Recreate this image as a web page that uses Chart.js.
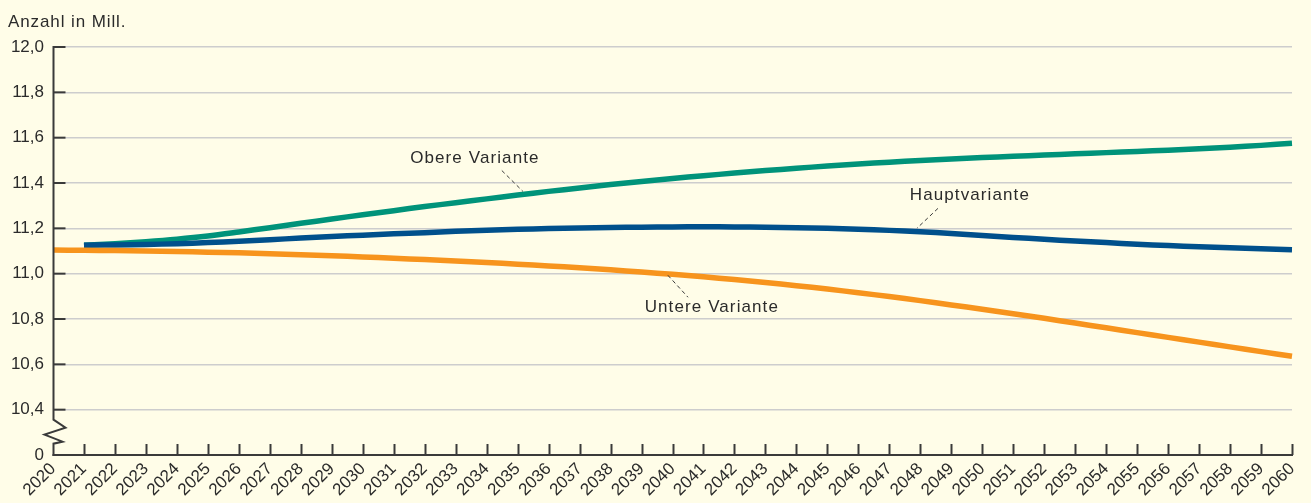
<!DOCTYPE html>
<html><head><meta charset="utf-8">
<script src="https://cdn.jsdelivr.net/npm/chart.js@4"></script>
<style>html,body{margin:0;padding:0;background:#fffde8;overflow:hidden}</style>
</head><body>
<canvas id="c" width="1311" height="503"></canvas>
<script>
const years = ['2020','2021','2022','2023','2024','2025','2026','2027','2028','2029','2030',
  '2031','2032','2033','2034','2035','2036','2037','2038','2039','2040',
  '2041','2042','2043','2044','2045','2046','2047','2048','2049','2050',
  '2051','2052','2053','2054','2055','2056','2057','2058','2059','2060'];

const obereVariante = [null,11.125,11.132,11.141,11.152,11.166,11.184,11.203,11.222,11.241,11.260,
  11.278,11.296,11.313,11.330,11.347,11.363,11.378,11.393,11.407,11.420,
  11.432,11.444,11.455,11.465,11.475,11.484,11.492,11.499,11.506,11.512,
  11.518,11.523,11.529,11.534,11.539,11.545,11.551,11.558,11.566,11.575];

const hauptvariante = [null,11.125,11.127,11.129,11.132,11.137,11.143,11.150,11.157,11.164,11.170,
  11.176,11.181,11.187,11.192,11.196,11.199,11.202,11.204,11.205,11.206,
  11.207,11.206,11.205,11.203,11.200,11.196,11.191,11.185,11.177,11.168,
  11.160,11.152,11.144,11.137,11.130,11.124,11.119,11.114,11.110,11.106];

const untereVariante = [11.104,11.103,11.102,11.100,11.098,11.095,11.092,11.088,11.084,11.079,11.074,
  11.068,11.062,11.056,11.049,11.042,11.034,11.026,11.017,11.007,10.997,
  10.986,10.974,10.961,10.947,10.932,10.916,10.899,10.881,10.862,10.843,
  10.823,10.803,10.782,10.761,10.740,10.719,10.698,10.677,10.656,10.636];

const yTickValues = [10.2,10.4,10.6,10.8,11.0,11.2,11.4,11.6,11.8,12.0];
const yTickLabels = ['0','10,4','10,6','10,8','11,0','11,2','11,4','11,6','11,8','12,0'];
const yTitle = 'Anzahl in Mill.';

const labelNotes = [
  {text:'Obere Variante', x:13.62, y:11.508, from:[14.49,11.455], to:[15.17,11.363]},
  {text:'Untere Variante', x:21.27, y:10.852, from:[19.85,10.993], to:[20.5,10.896]},
  {text:'Hauptvariante', x:29.6, y:11.345, from:[28.57,11.288], to:[27.89,11.20]}
];

const INK = '#2b2b2b';
const AXIS = '#3a3a3a';
const FONT = '"Liberation Sans", Arial, sans-serif';

const decor = {
  id: 'decor',
  beforeDraw(chart) {
    const c = chart.ctx;
    c.save();
    c.fillStyle = '#fffde8';
    c.fillRect(0, 0, chart.width, chart.height);
    c.restore();
  },
  afterDraw(chart) {
    const c = chart.ctx;
    const xs = chart.scales.x, ys = chart.scales.y;
    const area = chart.chartArea;
    const ax = Math.round(area.left) + 0.5;
    c.save();
    c.strokeStyle = AXIS;
    c.lineWidth = 2;
    c.lineCap = 'butt';
    const yTop = ys.getPixelForValue(12.0);
    const yBot = area.bottom;
    const y104 = ys.getPixelForValue(10.4);
    c.beginPath();
    c.moveTo(ax, yTop - 1);
    c.lineTo(ax, y104 + 10);
    c.lineTo(ax + 12, y104 + 18);
    c.lineTo(ax - 9, y104 + 25);
    c.lineTo(ax + 9, y104 + 32);
    c.lineTo(ax, y104 + 34);
    c.lineTo(ax, yBot + 1);
    c.stroke();
    c.beginPath();
    c.moveTo(ax - 1, yBot);
    c.lineTo(area.right + 1, yBot);
    c.stroke();
    yTickValues.forEach(v => {
      if (v === 10.2) return;
      const py = ys.getPixelForValue(v);
      c.beginPath();
      c.moveTo(ax, py);
      c.lineTo(ax + 12, py);
      c.stroke();
    });
    years.forEach((yr, i) => {
      if (i === 0) return;
      const px = Math.round(xs.getPixelForValue(i)) + 0.5;
      c.beginPath();
      c.moveTo(px, yBot);
      c.lineTo(px, yBot - 11);
      c.stroke();
    });
    c.fillStyle = INK;
    c.font = '17px ' + FONT;
    c.letterSpacing = '0.9px';
    c.textAlign = 'left';
    c.textBaseline = 'alphabetic';
    c.fillText(yTitle, 8, 27);
    c.letterSpacing = '1.1px';
    c.textAlign = 'center';
    c.textBaseline = 'middle';
    labelNotes.forEach(n => {
      c.fillText(n.text, xs.getPixelForValue(n.x), ys.getPixelForValue(n.y));
      c.beginPath();
      c.setLineDash([4, 3]);
      c.lineWidth = 1;
      c.moveTo(xs.getPixelForValue(n.from[0]), ys.getPixelForValue(n.from[1]));
      c.lineTo(xs.getPixelForValue(n.to[0]), ys.getPixelForValue(n.to[1]));
      c.stroke();
      c.setLineDash([]);
    });
    c.restore();
  }
};

const ds = (label, data, color) => ({
  label, data, borderColor: color, backgroundColor: color,
  borderWidth: 5.5, pointRadius: 0, tension: 0.3, fill: false, spanGaps: false,
  borderCapStyle: 'butt'
});

new Chart(document.getElementById('c'), {
  type: 'line',
  data: {
    labels: years,
    datasets: [
      ds('Untere Variante', untereVariante, '#f7941d'),
      ds('Hauptvariante', hauptvariante, '#00508c'),
      ds('Obere Variante', obereVariante, '#00937a')
    ]
  },
  plugins: [decor],
  options: {
    responsive: false,
    devicePixelRatio: 1,
    animation: false,
    layout: { padding: { top: 47, right: 19, bottom: 0, left: 0 } },
    plugins: { legend: { display: false }, tooltip: { enabled: false } },
    scales: {
      x: {
        type: 'category',
        offset: false,
        grid: { display: false, drawTicks: false },
        border: { display: false },
        ticks: {
          autoSkip: false, maxRotation: 45, minRotation: 45, padding: 4,
          color: INK, font: { family: FONT, size: 17 }
        },
        afterFit(s) { s.height = 48; }
      },
      y: {
        type: 'linear', min: 10.2, max: 12.0,
        afterBuildTicks(s) { s.ticks = yTickValues.map(v => ({ value: v })); },
        grid: {
          drawTicks: false, lineWidth: 1.5,
          color: ctx => (ctx.tick && ctx.tick.value === 10.2) ? 'rgba(0,0,0,0)' : '#cdcdcd'
        },
        border: { display: false },
        ticks: {
          padding: 9, color: INK, font: { family: FONT, size: 17 },
          callback: (v) => { const i = yTickValues.indexOf(Math.round(v * 10) / 10); return i >= 0 ? yTickLabels[i] : ''; }
        },
        afterFit(s) { s.width = 53; }
      }
    }
  }
});
</script>
</body></html>
